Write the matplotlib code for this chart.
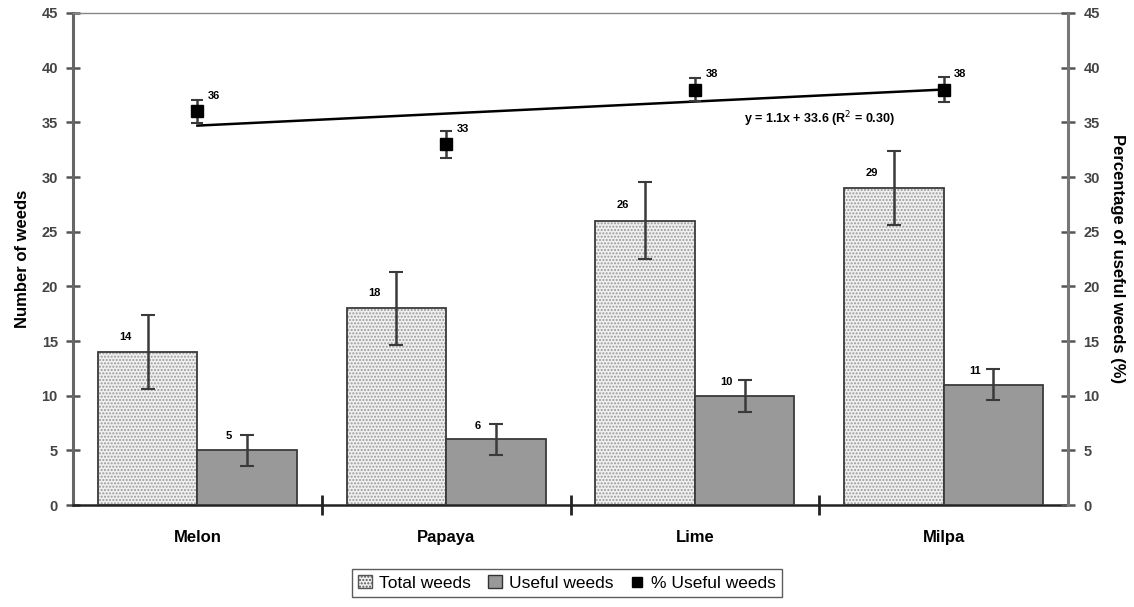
import matplotlib
matplotlib.use("Agg")
import matplotlib.pyplot as plt
import numpy as np
from matplotlib.patches import Patch
from matplotlib.lines import Line2D

# Data
crops = ["Melon", "Papaya", "Lime", "Milpa"]
total_weeds = [14, 18, 26, 29]
total_err = [3.4, 3.35, 3.5, 3.4]
useful_weeds = [5, 6, 10, 11]
useful_err = [1.4, 1.4, 1.45, 1.4]
pct_useful = [36, 33, 38, 38]
pct_err = [1.05, 1.25, 1.05, 1.15]
trend_slope = 1.1
trend_intercept = 33.6
trend_r2 = 0.30

plt.rcParams["font.family"] = ["Liberation Sans", "DejaVu Sans"]

fig = plt.figure(figsize=(11.34, 6.07), dpi=100)
ax = fig.add_axes([0.0644, 0.168, 0.8774, 0.8106])
ax2 = ax.twinx()

x = np.arange(len(crops))
w = 0.4

# Total weeds: dotted light fill, then outline
ax.bar(x - w / 2, total_weeds, w, facecolor="#f0f0f0", edgecolor="#999999",
       hatch=".....", linewidth=0, zorder=2)
ax.bar(x - w / 2, total_weeds, w, fill=False, edgecolor="#3a3a3a",
       linewidth=1.3, zorder=3)
ax.errorbar(x - w / 2, total_weeds, yerr=total_err, fmt="none",
            ecolor="#3a3a3a", elinewidth=1.8, capsize=5, capthick=1.5, zorder=4)

# Useful weeds
ax.bar(x + w / 2, useful_weeds, w, facecolor="#999999", edgecolor="#3a3a3a",
       linewidth=1.3, zorder=3)
ax.errorbar(x + w / 2, useful_weeds, yerr=useful_err, fmt="none",
            ecolor="#3a3a3a", elinewidth=1.8, capsize=5, capthick=1.5, zorder=4)

# Value labels on bars
for xi, v in zip(x - w / 2, total_weeds):
    ax.annotate(str(v), (xi, v), xytext=(-16, 11), textcoords="offset points",
                ha="center", va="center", fontsize=8, fontweight="bold", zorder=5)
for xi, v in zip(x + w / 2, useful_weeds):
    ax.annotate(str(v), (xi, v), xytext=(-13, 10), textcoords="offset points",
                ha="center", va="center", fontsize=8, fontweight="bold", zorder=5)

# Percentage of useful weeds with trend line
ax2.errorbar(x, pct_useful, yerr=pct_err, fmt="s", color="black", ms=8,
             ecolor="#3a3a3a", elinewidth=1.8, capsize=4, capthick=1.5, zorder=5)
trend = [trend_slope * (i + 1) + trend_intercept for i in range(len(crops))]
ax2.plot([x[0], x[-1]], [trend[0], trend[-1]], color="black", lw=1.8, zorder=4)
for xi, v in zip(x, pct_useful):
    ax2.annotate(str(v), (xi, v), xytext=(12, 11), textcoords="offset points",
                 ha="center", va="center", fontsize=8, fontweight="bold")
ax2.annotate(f"y = {trend_slope}x + {trend_intercept} (R$^2$ = {trend_r2:.2f})",
             (2.5, trend_slope * 3.5 + trend_intercept), xytext=(0, -17),
             textcoords="offset points", ha="center", va="center",
             fontsize=9, fontweight="bold")

# Axes styling
for a in (ax, ax2):
    a.set_xlim(-0.5, len(crops) - 0.5)
    a.set_ylim(0, 45)
    a.set_yticks(np.arange(0, 46, 5))

ax.set_xticks([i + 0.5 for i in range(len(crops) - 1)])
ax.set_xticklabels([])
ax.tick_params(axis="x", direction="inout", length=14, width=2, color="#222222")
for xi, name in zip(x, crops):
    ax.text(xi, -0.065, name, transform=ax.get_xaxis_transform(), ha="center",
            va="center", fontsize=12, fontweight="bold")

ax.tick_params(axis="y", direction="inout", length=10, width=1.8, color="#555555",
               labelsize=10.5, labelcolor="#444444", pad=6)
ax2.tick_params(axis="y", direction="inout", length=10, width=1.8, color="#555555",
                labelsize=10.5, labelcolor="#444444", pad=6)
for lbl in ax.get_yticklabels() + ax2.get_yticklabels():
    lbl.set_fontweight("bold")

ax.spines["left"].set_color("#666666")
ax.spines["left"].set_linewidth(2.2)
ax.spines["bottom"].set_color("#222222")
ax.spines["bottom"].set_linewidth(1.8)
ax.spines["top"].set_color("#888888")
ax.spines["top"].set_linewidth(1.0)
ax.spines["right"].set_visible(False)
ax2.spines["right"].set_color("#777777")
ax2.spines["right"].set_linewidth(2.2)
for s in ("left", "top", "bottom"):
    ax2.spines[s].set_visible(False)

ax.set_ylabel("Number of weeds", fontsize=12, fontweight="bold", labelpad=8)
ax2.set_ylabel("Percentage of useful weeds (%)", fontsize=12, fontweight="bold",
               rotation=-90, labelpad=18)

handles = [
    Patch(facecolor="#f0f0f0", edgecolor="#555555", hatch="....."),
    Patch(facecolor="#999999", edgecolor="#333333"),
    Line2D([], [], marker="s", color="black", ls="none", ms=7),
]
leg = fig.legend(handles, ["Total weeds", "Useful weeds", "% Useful weeds"],
                 loc="center", bbox_to_anchor=(0.5, 0.0395), ncol=3, fontsize=12.5,
                 frameon=True, fancybox=False, edgecolor="#333333",
                 handlelength=0.8, handleheight=0.8, handletextpad=0.4,
                 columnspacing=1.0, borderpad=0.35)
leg.get_frame().set_linewidth(1.0)

fig.savefig("out.png", dpi=100)
